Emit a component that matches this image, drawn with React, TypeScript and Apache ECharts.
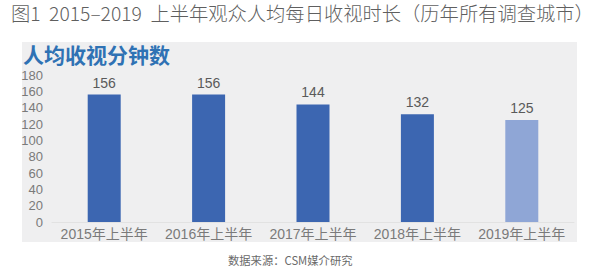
import React, { useEffect, useRef } from "react";
import * as echarts from "echarts";

const categories = ["2015年上半年", "2016年上半年", "2017年上半年", "2018年上半年", "2019年上半年"];
const values = [156, 156, 144, 132, 125];
const barColors = ["#3c66b1", "#3c66b1", "#3c66b1", "#3c66b1", "#8fa6d6"];
const heading = "图1  2015–2019  上半年观众人均每日收视时长（历年所有调查城市）";
const panelTitle = "人均收视分钟数";
const footer = "数据来源：CSM媒介研究";

const FONT = '"Liberation Sans", "Noto Sans CJK SC", sans-serif';
const CJK = '"Noto Sans CJK SC", "Liberation Sans", sans-serif';

export default function App() {
  const ref = useRef<HTMLDivElement>(null);
  useEffect(() => {
    if (!ref.current) return;
    const chart = echarts.init(ref.current, undefined, { renderer: "svg" });
    chart.setOption({
      animation: false,
      backgroundColor: "#ffffff",
      graphic: [
        {
          type: "rect",
          z: -10,
          shape: { x: 22, y: 42, width: 555, height: 200 },
          style: { fill: "#efeff0" },
          silent: true,
        },
        {
          type: "text",
          x: 11,
          y: 13,
          style: {
            text: heading,
            font: `300 19.3px ${CJK}`,
            lineHeight: 20,
            fill: "#5f5f5f",
            verticalAlign: "middle",
            textAlign: "left",
          },
        },
        {
          type: "text",
          x: 23,
          y: 54,
          style: {
            text: panelTitle,
            font: `bold 21px ${CJK}`,
            lineHeight: 21,
            fill: "#2f72b4",
            verticalAlign: "middle",
            textAlign: "left",
          },
        },
        {
          type: "text",
          x: 228,
          y: 260,
          style: {
            text: footer,
            font: `11.3px ${CJK}`,
            fill: "#6a6a6a",
            verticalAlign: "middle",
            textAlign: "left",
          },
        },
      ],
      grid: { left: 52, right: 26, top: 75, bottom: 51, containLabel: false },
      xAxis: {
        type: "category",
        data: categories,
        axisLine: { show: true, lineStyle: { color: "#e2e2e2" } },
        axisTick: { show: false },
        axisLabel: { interval: 0, fontSize: 14, color: "#7a7a7a", fontFamily: FONT, margin: 5 },
      },
      yAxis: {
        type: "value",
        min: 0,
        max: 180,
        interval: 20,
        axisLine: { show: false },
        axisTick: { show: false },
        splitLine: { show: false },
        axisLabel: { fontSize: 13, color: "#7a7a7a", fontFamily: FONT, margin: 9 },
      },
      series: [
        {
          type: "bar",
          barWidth: 33,
          data: values.map((v, i) => ({ value: v, itemStyle: { color: barColors[i] } })),
          label: {
            show: true,
            position: "top",
            distance: 5,
            fontSize: 14,
            color: "#5a5a5a",
            fontFamily: FONT,
          },
        },
      ],
    });
    return () => chart.dispose();
  }, []);
  return (
    <div
      ref={ref}
      style={{ position: "fixed", left: 0, top: 0, width: 600, height: 273 }}
    />
  );
}
